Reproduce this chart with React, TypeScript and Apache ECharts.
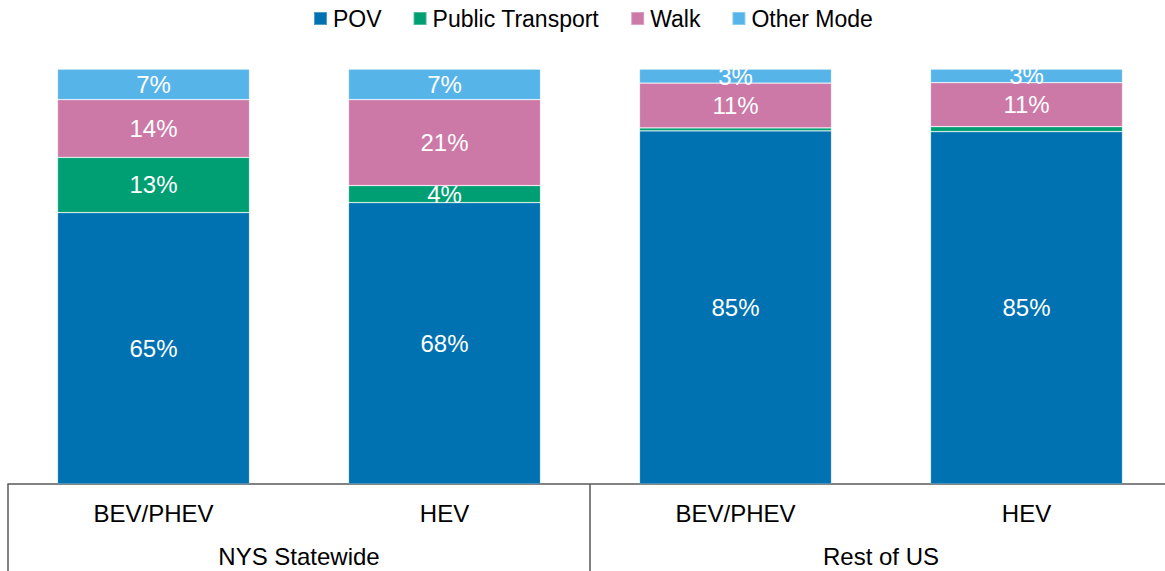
import React, { useEffect, useRef } from "react";
import * as echarts from "echarts";

const subCategories = ["BEV/PHEV", "HEV", "BEV/PHEV", "HEV"];
const groupCategories = ["NYS Statewide", "Rest of US"];
const seriesNames = ["POV", "Public Transport", "Walk", "Other Mode"];
const povValues = [65.4, 67.8, 85.1, 84.9];
const publicTransportValues = [13.3, 4.1, 0.7, 1.2];
const walkValues = [13.9, 20.7, 10.8, 10.6];
const otherModeValues = [7.4, 7.4, 3.4, 3.3];
const seriesColors = ["#0072B2", "#009E73", "#CC79A7", "#56B4E9"];

const FONT = "'Liberation Sans', Arial, sans-serif";

export default function App() {
  const ref = useRef<HTMLDivElement>(null);
  useEffect(() => {
    if (!ref.current) return;
    const chart = echarts.init(ref.current, undefined, { renderer: "svg" });
    const values = [povValues, publicTransportValues, walkValues, otherModeValues];
    chart.setOption({
      animation: false,
      textStyle: { fontFamily: FONT },
      legend: {
        top: 2,
        left: 308,
        itemWidth: 13,
        itemHeight: 13,
        itemGap: 31,
        icon: "rect",
        textStyle: { fontSize: 23, color: "#000", fontFamily: FONT, padding: [0, 0, 0, 1] },
        data: seriesNames,
      },
      grid: {
        left: 8,
        width: 1164,
        top: 69,
        bottom: 87,
        containLabel: false,
        outerBoundsMode: "none",
      },
      xAxis: [
        {
          type: "category",
          data: subCategories,
          position: "bottom",
          axisLine: { show: true, lineStyle: { color: "#595959", width: 1.5 } },
          axisTick: { show: false },
          axisLabel: { fontSize: 24, color: "#000", margin: 17, fontFamily: FONT, interval: 0 },
        },
        {
          type: "category",
          data: groupCategories,
          position: "bottom",
          axisLine: { show: false },
          axisTick: { show: true, length: 87, lineStyle: { color: "#595959", width: 1.5 } },
          axisLabel: { fontSize: 24, color: "#000", margin: 60, fontFamily: FONT, interval: 0 },
        },
      ],
      yAxis: { type: "value", min: 0, max: 100, show: false, splitLine: { show: false } },
      series: seriesNames.map((name, i) => ({
        name,
        type: "bar",
        stack: "total",
        xAxisIndex: 0,
        barWidth: "66%",
        data: values[i],
        itemStyle: { color: seriesColors[i], borderColor: "rgba(255,255,255,0.3)", borderWidth: 0.75 },
        label: {
          show: true,
          position: "inside",
          color: "#fff",
          fontSize: 24,
          fontFamily: FONT,
          formatter: (p: any) => (p.value < 2 ? "" : Math.round(p.value) + "%"),
        },
      })),
    });
    return () => chart.dispose();
  }, []);
  return (
    <div
      ref={ref}
      style={{ position: "fixed", left: 0, top: 0, width: 1165, height: 571, background: "#fff" }}
    />
  );
}
